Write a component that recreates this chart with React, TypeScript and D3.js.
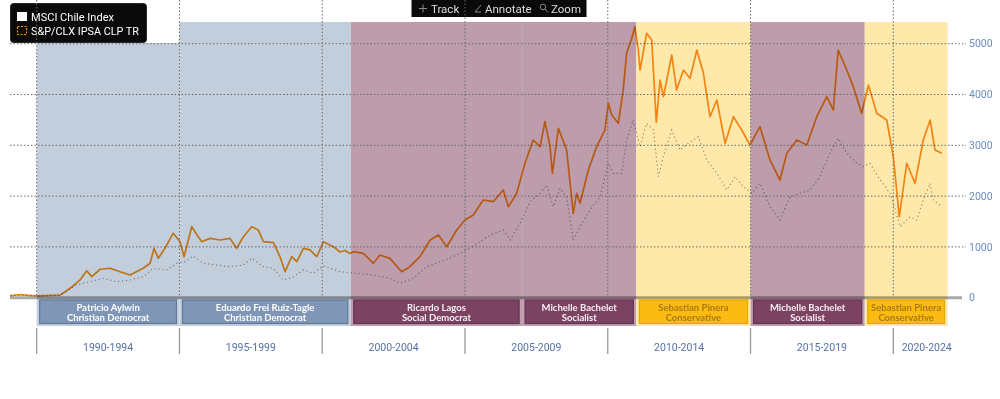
import React from 'react';
import * as d3 from 'd3';

// S&P/CLX IPSA CLP TR (orange) — decimal year / index value
const ipsaYears = [1989.07, 1989.4, 1989.75, 1990.06, 1990.5, 1990.82, 1991.17, 1991.52, 1991.75, 1991.93, 1992.22, 1992.57, 1992.92, 1993.27, 1993.73, 1993.97, 1994.11, 1994.26, 1994.49, 1994.78, 1995.02, 1995.16, 1995.43, 1995.54, 1995.78, 1996.07, 1996.42, 1996.77, 1997.0, 1997.24, 1997.53, 1997.76, 1997.94, 1998.29, 1998.52, 1998.7, 1998.93, 1999.11, 1999.34, 1999.57, 1999.81, 2000.04, 2000.39, 2000.62, 2000.8, 2000.97, 2001.09, 2001.44, 2001.79, 2002.02, 2002.37, 2002.78, 2003.07, 2003.42, 2003.78, 2004.07, 2004.36, 2004.71, 2005.0, 2005.29, 2005.64, 2005.99, 2006.34, 2006.52, 2006.81, 2007.1, 2007.39, 2007.63, 2007.8, 2007.98, 2008.06, 2008.27, 2008.56, 2008.79, 2008.91, 2009.03, 2009.32, 2009.61, 2009.9, 2010.02, 2010.14, 2010.37, 2010.54, 2010.66, 2010.84, 2010.95, 2011.07, 2011.13, 2011.36, 2011.54, 2011.7, 2011.83, 2011.95, 2012.24, 2012.41, 2012.65, 2012.88, 2013.12, 2013.35, 2013.58, 2013.82, 2014.11, 2014.4, 2014.69, 2014.98, 2015.33, 2015.68, 2016.03, 2016.27, 2016.62, 2016.97, 2017.32, 2017.67, 2017.9, 2018.07, 2018.37, 2018.6, 2018.89, 2019.13, 2019.42, 2019.77, 2020.0, 2020.21, 2020.47, 2020.76, 2021.05, 2021.29, 2021.46, 2021.7];
const ipsaValues = [40, 60, 45, 35, 45, 50, 185, 350, 530, 415, 560, 580, 510, 447, 580, 677, 972, 775, 972, 1268, 1102, 807, 1398, 1300, 1102, 1168, 1136, 1168, 972, 1200, 1398, 1332, 1102, 1083, 807, 512, 807, 709, 972, 940, 807, 1102, 1004, 900, 930, 870, 906, 874, 677, 840, 775, 512, 610, 807, 1136, 1234, 1004, 1332, 1530, 1628, 1923, 1890, 2120, 1791, 2055, 2646, 3104, 2972, 3465, 2972, 2449, 3335, 2907, 1661, 2055, 1858, 2514, 2972, 3301, 3827, 3596, 3433, 4088, 4811, 5106, 5335, 4876, 4482, 5205, 5073, 3450, 4285, 3957, 4778, 4088, 4482, 4318, 4876, 4417, 3563, 3892, 3039, 3563, 3301, 3006, 3366, 2711, 2317, 2843, 3104, 3006, 3563, 3957, 3695, 4876, 4482, 4154, 3630, 4187, 3630, 3498, 2776, 1594, 2646, 2252, 3104, 3498, 2907, 2843];

// MSCI Chile Index (dotted)
const msciYears = [1989.07, 1989.5, 1990.06, 1990.82, 1991.17, 1991.4, 1991.87, 1992.33, 1992.8, 1993.27, 1993.73, 1994.08, 1994.55, 1994.9, 1995.19, 1995.48, 1995.83, 1996.3, 1996.77, 1997.24, 1997.53, 1997.94, 1998.29, 1998.64, 1998.99, 1999.34, 1999.69, 2000.04, 2000.39, 2000.62, 2001.21, 2001.79, 2002.37, 2002.72, 2003.19, 2003.66, 2004.12, 2004.59, 2005.06, 2005.53, 2005.99, 2006.34, 2006.58, 2006.93, 2007.28, 2007.63, 2007.86, 2008.09, 2008.33, 2008.56, 2008.79, 2009.03, 2009.38, 2009.73, 2010.02, 2010.19, 2010.49, 2010.66, 2010.89, 2011.13, 2011.36, 2011.6, 2011.77, 2011.95, 2012.24, 2012.53, 2012.82, 2013.17, 2013.47, 2013.82, 2014.17, 2014.46, 2014.75, 2015.04, 2015.33, 2015.68, 2016.03, 2016.38, 2016.73, 2017.08, 2017.43, 2017.78, 2018.07, 2018.37, 2018.72, 2018.95, 2019.18, 2019.54, 2019.89, 2020.24, 2020.59, 2020.82, 2021.05, 2021.29, 2021.4, 2021.7];
const msciValues = [40, 50, 35, 50, 170, 250, 315, 380, 315, 348, 413, 578, 545, 677, 709, 820, 677, 643, 610, 643, 775, 610, 578, 348, 413, 545, 480, 624, 559, 512, 480, 447, 382, 283, 382, 610, 709, 807, 939, 1102, 1268, 1332, 1136, 1465, 1890, 2055, 2218, 1791, 2153, 1988, 1136, 1398, 1726, 1988, 2646, 2449, 2449, 3104, 3498, 2972, 3433, 3301, 2382, 2776, 3301, 2907, 3039, 3169, 2711, 2449, 2120, 2382, 2185, 2055, 2252, 1791, 1530, 1988, 2055, 2120, 2382, 2843, 3138, 2843, 2646, 2579, 2646, 2317, 2055, 1398, 1594, 1530, 1923, 2252, 1923, 1791];

const yTicks = [0, 1000, 2000, 3000, 4000, 5000];
const gridYears = [1990, 1995, 2000, 2005, 2010, 2015, 2020];
const periodLabels = ['1990-1994', '1995-1999', '2000-2004', '2005-2009', '2010-2014', '2015-2019', '2020-2024'];
const periodBounds = [1990, 1995, 2000, 2005, 2010, 2015, 2020, 2022.34];

const presidents = ['Patricio Aylwin', 'Eduardo Frei Ruiz-Tagle', 'Ricardo Lagos', 'Michelle Bachelet', 'Sebastian Pinera', 'Michelle Bachelet', 'Sebastian Pinera'];
const parties = ['Christian Democrat', 'Christian Democrat', 'Social Democrat', 'Socialist', 'Conservative', 'Socialist', 'Conservative'];
const termStarts = [1990, 1995, 2001, 2007, 2011, 2015, 2019];
const termEnds = [1995, 2001, 2007, 2011, 2015, 2019, 2021.9];
const partyGroups = ['cd', 'cd', 'left', 'left', 'right', 'left', 'right'];

const bandFill: Record<string, string> = { cd: '#c3cedd', left: '#bd9cac', right: '#fee9ab' };
const boxFill: Record<string, string> = { cd: '#7f96b7', left: '#7b4262', right: '#fbbb12' };
const boxStroke: Record<string, string> = { cd: '#627897', left: '#663252', right: '#e9a800' };
const boxText: Record<string, string> = { cd: '#ffffff', left: '#f6eef2', right: '#a87a12' };

export default function App() {
  const x = d3.scaleLinear().domain([1990, 2020]).range([36.7, 893.3]);
  const y = d3.scaleLinear().domain([0, 5000]).range([297.7, 43.7]);
  const ipsaPath = d3.line<number>()
    .x((_, i) => x(ipsaYears[i]))
    .y((d) => y(d))(ipsaValues) || '';
  const msciPath = d3.line<number>()
    .x((_, i) => x(msciYears[i]))
    .y((d) => y(d))(msciValues) || '';

  const plotLeft = 10;
  const gridRight = 966;
  const bandTop = 22;
  const legendBottom = 43;
  const bandBottom = 326;
  const font = "Roboto, 'Liberation Sans', sans-serif";
  const boxFont = "Lato, 'Open Sans', sans-serif";

  return (
    <svg width={1000} height={399} style={{ position: 'absolute', left: 0, top: 0, background: '#fff' }}>
      <rect x={0} y={0} width={1000} height={399} fill="#fff" />
      {/* presidential bands */}
      {presidents.map((p, i) => {
        const x0 = x(termStarts[i]);
        const x1 = x(termEnds[i]);
        const top = x0 < 147 ? legendBottom : bandTop;
        return <rect key={'band' + i} x={x0} y={top} width={x1 - x0} height={bandBottom - top} fill={bandFill[partyGroups[i]]} />;
      })}
      {/* baseline */}
      <line x1={plotLeft} x2={962} y1={y(0)} y2={y(0)} stroke="#a9a9a9" strokeWidth={3} style={{ mixBlendMode: 'multiply' }} />
      {/* horizontal grid */}
      {yTicks.filter((t) => t > 0).map((t) => (
        <line key={'h' + t} x1={plotLeft} x2={gridRight} y1={y(t)} y2={y(t)} stroke="#6a6a6a" strokeWidth={1} strokeDasharray="1.5,2" />
      ))}
      {/* y labels */}
      {yTicks.map((t) => (
        <text key={'yl' + t} x={969} y={y(t)} dy="0.35em" fontSize={10.5} fill="#6c8cc2" fontFamily={font}>{t}</text>
      ))}
      {/* series */}
      <path d={msciPath} fill="none" stroke="#555" strokeWidth={1.2} strokeDasharray="1.2,2.8" opacity={0.6} style={{ mixBlendMode: 'multiply' }} />
      <path d={ipsaPath} fill="none" stroke="#f7901c" strokeWidth={1.7} strokeLinejoin="round" style={{ mixBlendMode: 'multiply' }} />
      {/* president boxes */}
      {presidents.map((p, i) => {
        const x0 = x(termStarts[i]) + 3;
        const x1 = x(termEnds[i]) - 3;
        const g = partyGroups[i];
        const cx = (x0 + x1) / 2;
        return (
          <g key={'box' + i}>
            <rect x={x0} y={300} width={x1 - x0} height={23.5} fill={boxFill[g]} stroke={boxStroke[g]} strokeWidth={1.2} />
            <text x={cx} y={310.5} textAnchor="middle" fontSize={9.5} fontWeight={700} fill={boxText[g]} fontFamily={boxFont}>{p}</text>
            <text x={cx} y={320.8} textAnchor="middle" fontSize={9.5} fontWeight={700} fill={boxText[g]} fontFamily={boxFont}>{parties[i]}</text>
          </g>
        );
      })}
      {/* period row */}
      {periodLabels.map((lab, i) => {
        const cx = (x(periodBounds[i]) + x(periodBounds[i + 1])) / 2;
        return (
          <text key={'pl' + i} x={cx} y={351} textAnchor="middle" fontSize={10.5} fill="#5672a8" fontFamily={font}>{lab}</text>
        );
      })}
      {gridYears.map((yr) => (
        <line key={'sep' + yr} x1={x(yr)} x2={x(yr)} y1={328} y2={354} stroke="#999" strokeWidth={1.3} />
      ))}
      {/* legend */}
      <rect x={10.5} y={3.5} width={136} height={39} rx={3} fill="#0a0a0a" stroke="#2a2a2a" />
      <rect x={17} y={12} width={10} height={9} fill="#fff" />
      <text x={31} y={20.5} fontSize={11.5} fill="#fff" fontFamily={font} textLength={83} lengthAdjust="spacingAndGlyphs">MSCI Chile Index</text>
      <rect x={17.5} y={26.5} width={9} height={8} fill="none" stroke="#f7901c" strokeWidth={1.2} strokeDasharray="2,1.5" />
      <text x={31} y={35} fontSize={11.5} fill="#fff" fontFamily={font} textLength={108} lengthAdjust="spacingAndGlyphs">S&amp;P/CLX IPSA CLP TR</text>
      {/* toolbar */}
      <rect x={411.5} y={0} width={175} height={17} fill="#0a0a0a" />
      <g stroke="#888" strokeWidth={1} fill="none">
        <line x1={419} x2={427} y1={8.5} y2={8.5} />
        <line x1={423} x2={423} y1={4.5} y2={12.5} />
        <line x1={475} x2={481} y1={12} y2={5} />
        <line x1={475} x2={481} y1={12} y2={12} />
        <circle cx={543} cy={7} r={2.8} />
        <line x1={545} x2={548} y1={9} y2={12.5} />
      </g>
      <text x={431} y={12.5} fontSize={11.5} fill="#ddd" fontFamily={font}>Track</text>
      <text x={485} y={12.5} fontSize={11.5} fill="#ddd" fontFamily={font}>Annotate</text>
      <text x={551} y={12.5} fontSize={11.5} fill="#ddd" fontFamily={font}>Zoom</text>
      {/* vertical grid */}
      {gridYears.map((yr) => (
        <line key={'v' + yr} x1={x(yr)} x2={x(yr)} y1={0} y2={y(0) - 1.5} stroke="#6a6a6a" strokeWidth={1} strokeDasharray="1.5,2" />
      ))}
    </svg>
  );
}
